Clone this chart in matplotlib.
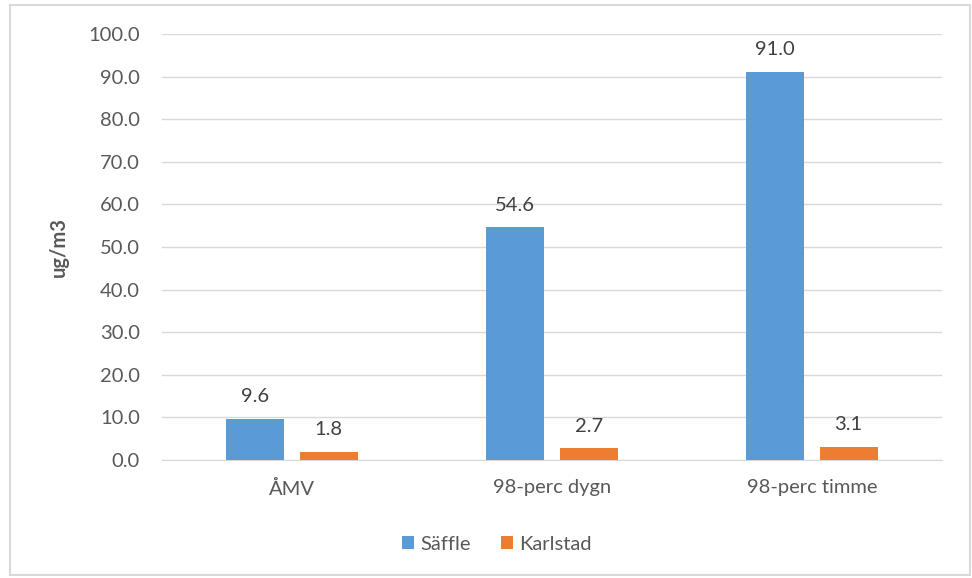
import matplotlib
matplotlib.use("Agg")
import matplotlib.pyplot as plt
from matplotlib.patches import Rectangle
import numpy as np

categories = ["ÅMV", "98-perc dygn", "98-perc timme"]
saffle = [9.6, 54.6, 91.0]
karlstad = [1.8, 2.7, 3.1]
series_names = ["Säffle", "Karlstad"]

plt.rcParams['font.family'] = ['Lato', 'DejaVu Sans']
txt = '#595959'
fs = 14.5

fig = plt.figure(figsize=(9.72, 5.78), dpi=100)
ax = fig.add_axes([162/972, 118/578, 780/972, 426/578])

x = np.arange(len(categories))
w = 0.223
off = 0.141
b1 = ax.bar(x - off, saffle, w, color='#5B9BD5', label=series_names[0], zorder=3)
b2 = ax.bar(x + off, karlstad, w, color='#ED7D31', label=series_names[1], zorder=3)
for bars, vals in ((b1, saffle), (b2, karlstad)):
    for r, v in zip(bars, vals):
        ax.annotate(f"{v:.1f}", (r.get_x() + r.get_width()/2, v), xytext=(0, 10),
                    textcoords='offset points', ha='center', va='bottom',
                    fontsize=fs, color='#404040')

ax.set_xlim(-0.5, 2.5)
ax.set_ylim(0, 100)
ax.set_yticks(np.arange(0, 101, 10))
ax.set_yticklabels([f"{v:.1f}" for v in np.arange(0, 101, 10)])
ax.set_xticks(x)
ax.set_xticklabels(categories)
ax.grid(axis='y', color='#D9D9D9', linewidth=1, zorder=0)
for s in ['top', 'right', 'left']:
    ax.spines[s].set_visible(False)
ax.spines['bottom'].set_color('#D9D9D9')
ax.tick_params(axis='both', length=0, labelsize=fs, colors=txt)
ax.tick_params(axis='y', pad=16)
ax.tick_params(axis='x', pad=14)
ax.set_ylabel("ug/m3", fontsize=fs, fontweight='bold', color=txt, labelpad=14)

ax.legend(loc='center', bbox_to_anchor=(497/972, 1 - 544/578), bbox_transform=fig.transFigure,
          ncol=2, frameon=False, fontsize=fs, labelcolor=txt, handlelength=0.6, handleheight=0.6,
          columnspacing=1.5, handletextpad=0.3)

fig.patches.append(Rectangle((10/972, 3/578), 960/972, 570/578, transform=fig.transFigure,
                             fill=False, edgecolor='#D9D9D9', linewidth=1.5))

fig.savefig("out.png", dpi=100)
